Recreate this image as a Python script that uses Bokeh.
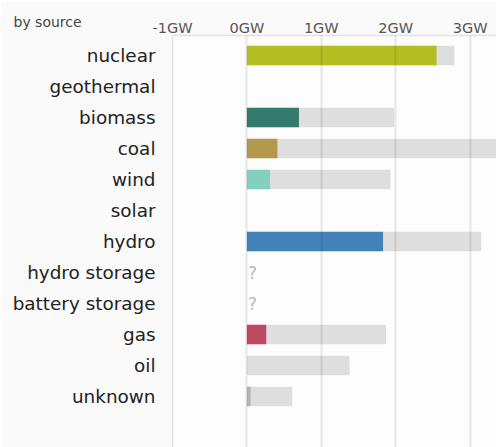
from bokeh.plotting import figure
from bokeh.models import Range1d, FixedTicker, Label, ColumnDataSource
from bokeh.core.properties import value
from bokeh.embed import file_html
from bokeh.resources import INLINE

# ---- data ----
categories = ["nuclear", "geothermal", "biomass", "coal", "wind", "solar", "hydro",
              "hydro storage", "battery storage", "gas", "oil", "unknown"]
production_gw = [2.55, 0.0, 0.70, 0.41, 0.31, 0.0, 1.83, None, None, 0.26, 0.0, 0.05]
capacity_gw = [2.79, 0.0, 1.98, 3.60, 1.93, 0.0, 3.15, None, None, 1.87, 1.38, 0.61]
mode_colors = ["#AEB800", "#FFFF00", "#166a57", "#ac8c35", "#74cdb9", "#f27406", "#2772b2",
               "#0052cc", "#d3d3d3", "#bb2f51", "#867d66", "#ACACAC"]
tick_values = [-1, 0, 1, 2, 3]
tick_labels = ["-1GW", "0GW", "1GW", "2GW", "3GW"]
title_text = "by source"

FONT = "DejaVu Sans"

pos = list(range(len(categories)))

p = figure(width=496, height=447, output_backend="svg", toolbar_location=None,
           x_range=Range1d(-1.0, 3.355), y_range=Range1d(12.645, -0.645),
           x_axis_location="above", min_border_left=172, min_border_top=34,
           min_border_right=0, min_border_bottom=0)
p.background_fill_color = "#fdfdfd"
p.border_fill_color = "#fafafa"
p.outline_line_color = None

cap_src = ColumnDataSource(dict(
    y=[i for i, c in zip(pos, capacity_gw) if c],
    right=[c for c in capacity_gw if c]))
p.hbar(y="y", left=0, right="right", height=0.625, source=cap_src,
       fill_color="black", fill_alpha=0.12, line_color=None)

prod_src = ColumnDataSource(dict(
    y=[i for i, v in zip(pos, production_gw) if v],
    right=[v for v in production_gw if v],
    color=[c for c, v in zip(mode_colors, production_gw) if v]))
p.hbar(y="y", left=0, right="right", height=0.625, source=prod_src,
       fill_color="color", fill_alpha=0.85, line_color=None)

unk_y = [i for i, v in zip(pos, production_gw) if v is None]
p.text(x=[0] * len(unk_y), y=unk_y, text=["?"] * len(unk_y),
       x_offset=1, text_baseline="middle", text_align="left",
       text_color="#bbbbbb", text_font=value(FONT), text_font_size="17px")

# x axis (top)
xa = p.xaxis[0]
xa.ticker = FixedTicker(ticks=tick_values)
xa.major_label_overrides = {v: l for v, l in zip(tick_values, tick_labels)}
xa.major_label_text_font = FONT
xa.major_label_text_font_size = "14.5px"
xa.major_label_text_color = "#555555"
xa.major_tick_line_color = None
xa.minor_tick_line_color = None
xa.major_tick_out = 0
xa.major_tick_in = 0
xa.major_label_standoff = 0
xa.axis_line_color = "#e2e2e2"
xa.axis_line_width = 1.5

# y axis (left)
ya = p.yaxis[0]
ya.ticker = FixedTicker(ticks=pos)
ya.major_label_overrides = {i: c for i, c in zip(pos, categories)}
ya.major_label_text_font = FONT
ya.major_label_text_font_size = "18.4px"
ya.major_label_text_color = "#222222"
ya.major_tick_line_color = None
ya.minor_tick_line_color = None
ya.major_tick_out = 0
ya.major_tick_in = 0
ya.major_label_standoff = 17
ya.axis_line_color = "#e2e2e2"
ya.axis_line_width = 1.5

p.xgrid.ticker = FixedTicker(ticks=tick_values)
p.xgrid.grid_line_color = "black"
p.xgrid.grid_line_alpha = 0.09
p.xgrid.grid_line_width = 2
p.xgrid.level = "overlay"
p.ygrid.grid_line_color = None

p.add_layout(Label(x=13, y=21, x_units="canvas", y_units="canvas", text=title_text,
                   text_font=FONT, text_font_size="14px", text_color="#444444",
                   text_baseline="alphabetic"), "above")

open("out.html", "w").write(file_html(p, INLINE))
